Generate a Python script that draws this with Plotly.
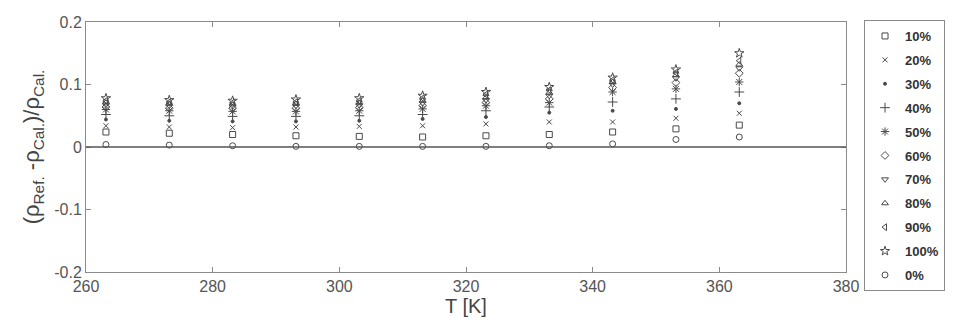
import plotly.graph_objects as go

temps_K = [263.15, 273.15, 283.15, 293.15, 303.15, 313.15, 323.15, 333.15, 343.15, 353.15, 363.15]

series_names = ["10%", "20%", "30%", "40%", "50%", "60%", "70%", "80%", "90%", "100%", "0%"]

dev_10 = [0.024, 0.022, 0.020, 0.018, 0.017, 0.016, 0.018, 0.020, 0.024, 0.029, 0.035]
dev_20 = [0.034, 0.032, 0.031, 0.032, 0.033, 0.034, 0.037, 0.040, 0.040, 0.046, 0.054]
dev_30 = [0.044, 0.042, 0.041, 0.041, 0.042, 0.045, 0.048, 0.055, 0.058, 0.061, 0.070]
dev_40 = [0.052, 0.050, 0.049, 0.049, 0.050, 0.052, 0.058, 0.064, 0.072, 0.077, 0.088]
dev_50 = [0.060, 0.058, 0.057, 0.057, 0.058, 0.061, 0.066, 0.071, 0.088, 0.093, 0.104]
dev_60 = [0.064, 0.062, 0.062, 0.062, 0.063, 0.066, 0.071, 0.077, 0.095, 0.103, 0.118]
dev_70 = [0.068, 0.066, 0.065, 0.066, 0.067, 0.070, 0.075, 0.082, 0.100, 0.110, 0.126]
dev_80 = [0.071, 0.069, 0.068, 0.069, 0.070, 0.074, 0.079, 0.087, 0.104, 0.115, 0.132]
dev_90 = [0.074, 0.072, 0.071, 0.072, 0.074, 0.078, 0.084, 0.091, 0.107, 0.119, 0.138]
dev_100 = [0.078, 0.075, 0.074, 0.076, 0.078, 0.082, 0.088, 0.096, 0.111, 0.124, 0.150]
dev_0 = [0.004, 0.003, 0.002, 0.001, 0.001, 0.001, 0.001, 0.002, 0.005, 0.012, 0.016]

all_devs = [dev_10, dev_20, dev_30, dev_40, dev_50, dev_60, dev_70, dev_80, dev_90, dev_100, dev_0]

symbols = ["square-open", "x-thin-open", "circle", "cross-thin-open", "asterisk-open",
           "diamond-open", "triangle-down-open", "triangle-up-open", "triangle-left-open",
           "star-open", "circle-open"]
sizes = [6, 5, 3, 7, 7, 6, 6, 6, 6, 7, 6]

x_ticks = [260, 280, 300, 320, 340, 360, 380]
y_ticks = [-0.2, -0.1, 0, 0.1, 0.2]
y_tick_text = ["-0.2", "-0.1", "0", "0.1", "0.2"]

mark_color = "#4a4a4a"

fig = go.Figure()
for i, (name, vals) in enumerate(zip(series_names, all_devs)):
    fig.add_trace(go.Scatter(
        x=temps_K, y=vals, mode="markers", name=name, legendgroup=name,
        marker=dict(symbol=symbols[i], size=sizes[i], color=mark_color,
                    line=dict(color=mark_color, width=1)),
    ))

axis_common = dict(showline=True, linecolor="#8a8a8a", linewidth=1, mirror="ticks",
                   ticks="inside", ticklen=5, tickcolor="#8a8a8a",
                   showgrid=False, zeroline=False,
                   tickfont=dict(family="Liberation Sans", size=16, color="#555555"))

fig.update_xaxes(range=[260, 380], tickvals=x_ticks,
                 title=dict(text="T [K]", font=dict(family="Liberation Sans", size=20, color="#444444"),
                            standoff=4),
                 **axis_common)
fig.update_yaxes(range=[-0.2, 0.2], tickvals=y_ticks, ticktext=y_tick_text,
                 title=dict(text="(ρ<sub>Ref.</sub> -ρ<sub>Cal.</sub>)/ρ<sub>Cal.</sub>",
                            font=dict(family="Liberation Sans", size=22, color="#444444"),
                            standoff=8),
                 **axis_common)

fig.add_hline(y=0, line=dict(color="#555555", width=1.5))

fig.update_layout(
    width=956, height=326,
    margin=dict(l=86, r=110, t=22, b=54, autoexpand=False),
    paper_bgcolor="white", plot_bgcolor="white",
    font=dict(family="Liberation Sans"),
    legend=dict(x=1.0237, y=1.008, xanchor="left", yanchor="top",
                bordercolor="#8a8a8a", borderwidth=1, bgcolor="white",
                tracegroupgap=4, traceorder="grouped", entrywidth=60, maxheight=320,
                font=dict(family="Liberation Sans", size=13, color="#333333", weight="bold")),
)

fig.write_html("out.html")
